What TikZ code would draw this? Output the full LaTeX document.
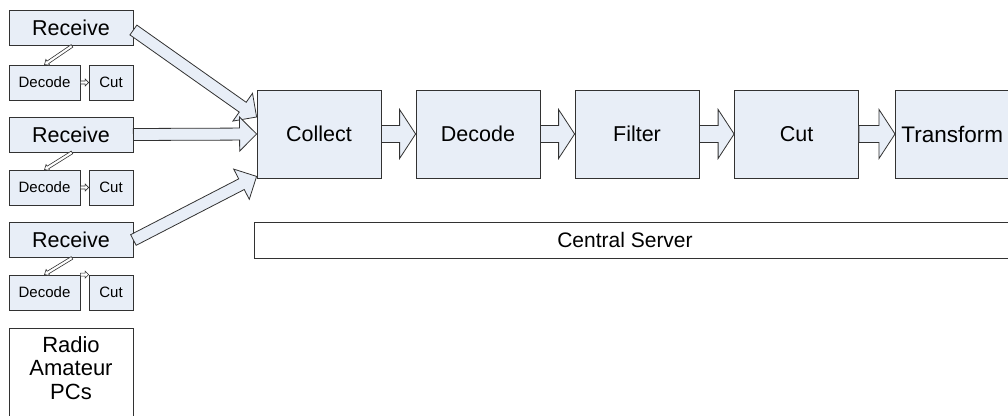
\documentclass[tikz,border=0pt]{standalone}
\usepackage{fontspec}
\setmainfont{Liberation Sans}
\usetikzlibrary{calc}
\definecolor{boxfill}{RGB}{232,238,247}
\definecolor{boxline}{RGB}{50,50,50}
\newcommand\blockarrow[6]{%
  \draw[#1] let \p1=(#2), \p2=(#3), \n1={atan2(\y2-\y1,\x2-\x1)}, \n2={veclen(\x2-\x1,\y2-\y1)} in
   [shift={(\p1)}, rotate=\n1]
   (0pt,-#4pt) -- ({\n2*1pt-#6pt},-#4pt) -- ({\n2*1pt-#6pt},-#5pt) -- ({\n2*1pt},0pt)
   -- ({\n2*1pt-#6pt},#5pt) -- ({\n2*1pt-#6pt},#4pt) -- (0pt,#4pt) -- cycle;}
\begin{document}
\begin{tikzpicture}[x=1pt,y=-1pt,
  bx/.style={draw=boxline, fill=boxfill, line width=0.8pt, inner sep=0pt, font=\fontsize{21.5}{23}\selectfont},
  bigbox/.style={bx, minimum width=124pt, minimum height=88pt},
  recbox/.style={bx, minimum width=124pt, minimum height=35pt},
  smallbox/.style={bx, minimum height=35pt, font=\fontsize{15}{17}\selectfont},
  whitebox/.style={draw=boxline, fill=white, line width=0.8pt, inner sep=0pt},
  fat/.style={draw=boxline, fill=boxfill, line width=0.8pt, line join=miter},
  thin/.style={draw=boxline, fill=white, line width=0.6pt, line join=miter}]
\clip (0,0) rectangle (1008,415);
\fill[white] (0,0) rectangle (1008,415);
% left column
\node[recbox] (rec1) at (71,28) {Receive};
\node[smallbox, minimum width=71pt] (dec1) at (44.5,82.5) {Decode};
\node[smallbox, minimum width=44pt] (cut1) at (111,82.5) {Cut};
\node[recbox] (rec2) at (71,134.5) {Receive};
\node[smallbox, minimum width=71pt] (dec2) at (44.5,187.5) {Decode};
\node[smallbox, minimum width=44pt] (cut2) at (111,187.5) {Cut};
\node[recbox] (rec3) at (71,240) {Receive};
\node[smallbox, minimum width=71pt] (dec3) at (44.5,292.5) {Decode};
\node[smallbox, minimum width=44pt] (cut3) at (111,292.5) {Cut};
\node[whitebox, anchor=north west, minimum width=124pt, minimum height=120pt] (radio) at (9,328) {};
\node[anchor=north, inner sep=0pt, align=center, font=\fontsize{22}{23.5}\selectfont] (radiotext) at (71,336) {Radio\\Amateur\\PCs};
% central server
\node[bigbox] (collect) at (319,134) {Collect};
\node[bigbox] (decode) at (478,134) {Decode};
\node[bigbox] (filter) at (637,134) {Filter};
\node[bigbox] (cut) at (796.5,134) {Cut};
\node[bigbox, anchor=west, minimum width=124pt, font=\fontsize{22.5}{24}\selectfont, text width=118pt, align=left] (transform) at (895,134) {\hspace*{3pt}Transform};
\node[whitebox, minimum width=780pt, minimum height=36pt, anchor=west] (server) at (254,240) {};
\node[inner sep=0pt, font=\fontsize{21}{23}\selectfont] (servertext) at (625,240) {Central Server};
% central arrows
\blockarrow{fat}{collect.east}{decode.west}{8.5}{24.5}{16}
\blockarrow{fat}{decode.east}{filter.west}{8.5}{24.5}{16}
\blockarrow{fat}{filter.east}{cut.west}{8.5}{24.5}{16}
\blockarrow{fat}{cut.east}{transform.west}{8.5}{24.5}{16}
% left big arrows
\blockarrow{fat}{[yshift=-2pt]rec1.east}{[yshift=17pt]collect.west}{6}{17}{17}
\blockarrow{fat}{rec2.east}{collect.west}{6}{17}{17}
\blockarrow{fat}{rec3.east}{[yshift=2pt]collect.south west}{6}{17}{17}
% small arrows
\blockarrow{thin}{[xshift=1pt]rec1.south}{dec1.north}{1.5}{3.5}{4}
\blockarrow{thin}{[xshift=1pt]rec2.south}{dec2.north}{1.5}{3.5}{4}
\blockarrow{thin}{[xshift=1pt]rec3.south}{dec3.north}{1.5}{3.5}{4}
\blockarrow{thin}{dec1.east}{cut1.west}{1.5}{3.5}{3.5}
\blockarrow{thin}{dec2.east}{cut2.west}{1.5}{3.5}{3.5}
\blockarrow{thin}{dec3.north east}{cut3.north west}{1.5}{3.5}{3.5}
\end{tikzpicture}
\end{document}
